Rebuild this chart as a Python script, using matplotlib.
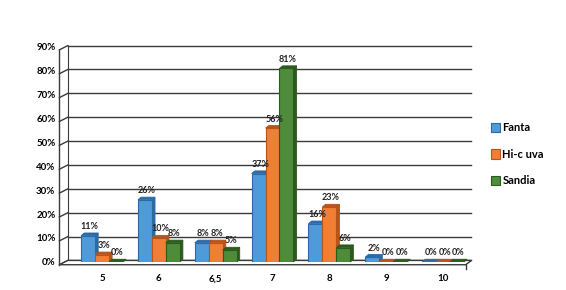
import numpy as np
import matplotlib
matplotlib.use("Agg")
from matplotlib import pyplot as plt
from matplotlib.patches import Polygon

plt.rcParams["font.family"] = ["Lato", "DejaVu Sans"]

# data
categories = ["5", "6", "6,5", "7", "8", "9", "10"]
fanta = [11, 26, 8, 37, 16, 2, 0]
hic_uva = [3, 10, 8, 56, 23, 0, 0]
sandia = [0, 8, 5, 81, 6, 0, 0]
series_names = ["Fanta", "Hi-c uva", "Sandia"]
y_ticks = [0, 10, 20, 30, 40, 50, 60, 70, 80, 90]

colors = ["#4f9ad8", "#f07f35", "#4e8b3a"]
dark = ["#2c6aa6", "#b8531a", "#2b5a1f"]

fig = plt.figure(figsize=(5.66, 2.9), dpi=100)
ax = fig.add_axes([0.12, 0.097, 0.723, 0.741])

x = np.arange(len(categories))
width = 0.245
dx = 0.055   # fake depth
dy = 1.1

ax.set_xlim(-0.6, len(categories) - 0.4)
ax.set_ylim(0, 90)
right = len(categories) - 0.5

# gridlines (back wall) plus little side-wall slants
for t in y_ticks:
    ax.plot([-0.6, right], [t + 0.6, t + 0.6], color="#3a3a3a", lw=1.0, zorder=1, clip_on=False)
    ax.plot([-0.75, -0.6], [t - 1.2, t + 0.6], color="#3a3a3a", lw=1.0, zorder=1, clip_on=False)
ax.plot([-0.75, -0.75], [-1.2, 88.8], color="#3a3a3a", lw=1.0, clip_on=False)
ax.plot([-0.6, -0.6], [0.6, 90.6], color="#3a3a3a", lw=0.8, clip_on=False)

# floor
floor = Polygon([[-0.75, -1.2], [right - 0.1, -1.2], [right, 0.6], [-0.6, 0.6]],
                closed=True, facecolor="white", edgecolor="#3a3a3a", lw=1.0, zorder=1, clip_on=False)
ax.add_patch(floor)
ax.plot([right - 0.1, right - 0.1], [-1.2, -3.0], color="#3a3a3a", lw=1.0, clip_on=False)

all_series = [fanta, hic_uva, sandia]
for i, vals in enumerate(all_series):
    pos = x + (i - 1) * width
    bars = ax.bar(pos, vals, width, color=colors[i], edgecolor=dark[i], lw=0.8,
                  label=series_names[i], zorder=3 + i * 0.1)
    for b, v in zip(bars, vals):
        x0 = b.get_x()
        x1 = x0 + b.get_width()
        top = Polygon([[x0, v], [x1, v], [x1 + dx, v + dy], [x0 + dx, v + dy]], closed=True,
                      facecolor=dark[i], edgecolor=dark[i], lw=0.6, zorder=3 + i * 0.1)
        side = Polygon([[x1, 0], [x1 + dx, dy], [x1 + dx, v + dy], [x1, v]], closed=True,
                       facecolor=dark[i], edgecolor=dark[i], lw=0.6, zorder=2.9 + i * 0.1)
        ax.add_patch(top)
        ax.add_patch(side)
        ax.text(x0 + width / 2 + dx / 2, v + dy + 0.8, "%d%%" % v, ha="center", va="bottom",
                fontsize=6.5, fontweight="bold", color="#222222", zorder=5)

for s in ax.spines.values():
    s.set_visible(False)
ax.set_yticks(y_ticks)
ax.set_yticklabels(["%d%%" % t for t in y_ticks], fontsize=7, fontweight="bold")
ax.set_xticks(x)
ax.set_xticklabels(categories, fontsize=7, fontweight="bold")
ax.tick_params(axis="y", length=0, pad=9)
ax.tick_params(axis="x", length=0, pad=9)

leg = ax.legend(loc="center left", bbox_to_anchor=(1.01, 0.5), frameon=False, fontsize=8,
                handlelength=0.8, handleheight=0.9, handletextpad=0.2, labelspacing=1.4)
for t in leg.get_texts():
    t.set_fontweight("bold")

fig.savefig("out.png", dpi=100)
